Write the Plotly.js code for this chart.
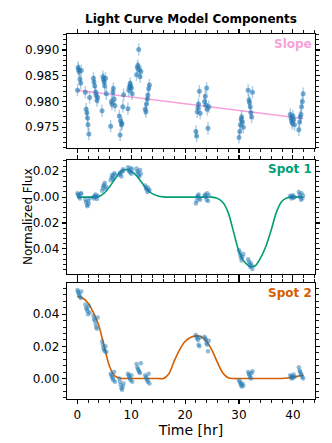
<!DOCTYPE html>
<html>
<head>
<meta charset="utf-8">
<script src="https://cdn.plot.ly/plotly-3.0.1.min.js"></script>
<style>
  html, body { margin: 0; padding: 0; background: #fff; }
  #chart { width: 332px; height: 443px; }
</style>
</head>
<body>
<div id="chart"></div>
<script>
// observation times [hr], 15 visits of 7 points
const time = [
  0.05, 0.15, 0.25, 0.35, 0.5, 0.65, 0.75,
  1.5, 1.65, 1.8, 1.9, 2.0, 2.15, 2.3,
  3.0, 3.1, 3.25, 3.4, 3.5, 3.65, 3.8,
  4.6, 4.75, 4.85, 5.0, 5.1, 5.25, 5.4,
  6.2, 6.35, 6.45, 6.6, 6.7, 6.85, 7.0,
  7.8, 7.95, 8.05, 8.2, 8.3, 8.45, 8.6,
  9.4, 9.55, 9.65, 9.8, 9.9, 10.05, 10.2,
  11.0, 11.15, 11.25, 11.4, 11.5, 11.65, 11.8,
  12.6, 12.75, 12.85, 13.0, 13.1, 13.25, 13.4,
  22.0, 22.15, 22.25, 22.4, 22.5, 22.65, 22.8,
  23.6, 23.75, 23.85, 24.0, 24.1, 24.25, 24.4,
  30.0, 30.15, 30.25, 30.4, 30.5, 30.65, 30.8,
  31.7, 31.85, 31.95, 32.1, 32.2, 32.35, 32.5,
  39.5, 39.65, 39.75, 39.9, 40.0, 40.15, 40.3,
  41.1, 41.25, 41.35, 41.5, 41.6, 41.75, 41.9
]

// top panel: flux with slope component
const slopeFlux = [
  0.9822, 0.9866, 0.9862, 0.9858, 0.9843, 0.9836, 0.9860,
  0.9818, 0.9785, 0.9778, 0.9768, 0.9755, 0.9737, 0.9808,
  0.9845, 0.9838, 0.9830, 0.9818, 0.9812, 0.9802, 0.9808,
  0.9782, 0.9848, 0.9843, 0.9838, 0.9830, 0.9845, 0.9815,
  0.9752, 0.9800, 0.9795, 0.9818, 0.9825, 0.9805, 0.9792,
  0.9772, 0.9735, 0.9762, 0.9755, 0.9758, 0.9790, 0.9813,
  0.9786, 0.9822, 0.9828, 0.9835, 0.9830, 0.9826, 0.9815,
  0.9852, 0.9866, 0.9870, 0.9901, 0.9862, 0.9848, 0.9858,
  0.9785, 0.9780, 0.9795, 0.9805, 0.9812, 0.9825, 0.9832,
  0.9742, 0.9733, 0.9780, 0.9788, 0.9795, 0.9820, 0.9777,
  0.9800, 0.9810, 0.9793, 0.9826, 0.9785, 0.9748, 0.9790,
  0.9730, 0.9742, 0.9755, 0.9765, 0.9770, 0.9760, 0.9750,
  0.9822, 0.9803, 0.9798, 0.9790, 0.9778, 0.9770, 0.9818,
  0.9775, 0.9768, 0.9762, 0.9758, 0.9772, 0.9765, 0.9755,
  0.9745, 0.9760, 0.9770, 0.9775, 0.9790, 0.9800, 0.9815
]
const slopeErr = 0.0012

const slopeLineT = [0, 41.9]
const slopeLine = [0.9822, 0.9767]

// middle panel: spot 1 residual flux
const spot1Flux = [
  0.003, 0.002, 0.0015, 0.0, -0.001, 0.0025, 0.003,
  -0.002, -0.004, -0.006, -0.007, -0.003, -0.005, -0.001,
  0.0, -0.001, 0.001, 0.002, 0.0, -0.0015, 0.001,
  0.005, 0.007, 0.0085, 0.0095, 0.011, 0.006, 0.008,
  0.013, 0.015, 0.017, 0.016, 0.014, 0.0185, 0.0175,
  0.017, 0.019, 0.018, 0.016, 0.0195, 0.0215, 0.0205,
  0.023, 0.021, 0.020, 0.019, 0.0225, 0.018, 0.0215,
  0.022, 0.020, 0.019, 0.017, 0.016, 0.021, 0.018,
  0.009, 0.007, 0.006, 0.004, 0.0075, 0.005, 0.0055,
  -0.005, -0.003, 0.0, 0.001, 0.002, -0.001, -0.002,
  0.001, 0.002, 0.0, -0.002, 0.003, -0.003, 0.0015,
  -0.041, -0.043, -0.045, -0.047, -0.049, -0.046, -0.044,
  -0.048, -0.050, -0.052, -0.054, -0.051, -0.053, -0.0555,
  0.001, 0.0, -0.001, 0.0005, 0.0015, -0.0005, 0.0,
  0.004, 0.002, 0.0, -0.002, 0.003, -0.001, 0.001
]

// bottom panel: spot 2 residual flux
const spot2Flux = [
  0.055, 0.054, 0.053, 0.052, 0.051, 0.050, 0.054,
  0.046, 0.044, 0.043, 0.042, 0.040, 0.045, 0.041,
  0.039, 0.037, 0.036, 0.034, 0.032, 0.031, 0.038,
  0.023, 0.021, 0.019, 0.018, 0.017, 0.020, 0.0165,
  0.003, 0.002, 0.001, 0.0, -0.001, 0.004, -0.002,
  0.0, -0.002, -0.004, -0.006, -0.007, -0.005, -0.003,
  0.003, 0.002, 0.001, 0.0, -0.001, 0.002, -0.002,
  0.009, 0.007, 0.006, 0.005, 0.004, 0.0035, 0.0095,
  0.002, 0.001, 0.0, -0.001, -0.002, 0.003, -0.003,
  0.027, 0.026, 0.025, 0.024, 0.021, 0.020, 0.0255,
  0.026, 0.025, 0.024, 0.022, 0.021, 0.017, 0.0235,
  -0.001, -0.002, -0.003, -0.004, -0.005, -0.003, -0.0045,
  0.004, 0.003, 0.002, 0.001, 0.0, 0.0035, 0.0045,
  0.002, 0.001, 0.0, 0.0015, 0.0005, 0.0025, 0.001,
  0.007, 0.005, 0.004, 0.003, 0.002, 0.001, 0.0
]

// model curves read at whole hours
const modelT = [
  0, 1, 2, 3, 4, 5, 6, 7, 8, 9, 10, 11, 12, 13, 14, 15, 16, 17, 18, 19, 20, 21,
  22, 23, 24, 25, 26, 27, 28, 29, 30, 31, 32, 33, 34, 35, 36, 37, 38, 39, 40, 41, 41.9
]
const spot1Model = [
  0, 0, 0, 0, 0.0005, 0.003, 0.008, 0.014, 0.0195, 0.0213, 0.020, 0.0165, 0.011, 0.0055,
  0.0025, 0.0008, 0.0002, 0, 0, 0, 0, 0, 0, 0, 0, 0, -0.001, -0.004, -0.012, -0.027,
  -0.042, -0.050, -0.0535, -0.053, -0.047, -0.038, -0.025, -0.011, -0.003, -0.0005, 0, 0, 0
]
const spot2Model = [
  0.051, 0.050, 0.047, 0.041, 0.033, 0.020, 0.0075, 0.0015, 0.0002, 0, 0, 0, 0, 0,
  0, 0, 0, 0.003, 0.011, 0.018, 0.023, 0.0255, 0.0265, 0.026, 0.023, 0.0175, 0.010,
  0.0035, 0.0005, 0, 0, 0, 0, 0, 0, 0, 0, 0, 0, 0.0003, 0.0008, 0.0015, 0.0022
]

const blue = "rgba(31,119,180,0.6)"
const pink = "#f7a1d9"
const green = "#009e73"
const orange = "#d55e00"

const data = [
  { x: slopeLineT, y: slopeLine, xaxis: "x", yaxis: "y", mode: "lines",
    line: { color: pink, width: 1.6 }, hoverinfo: "skip" },
  { x: time, y: slopeFlux, xaxis: "x", yaxis: "y", mode: "markers",
    marker: { color: blue, size: 5 },
    error_y: { type: "constant", value: slopeErr, color: "rgba(31,119,180,0.35)", thickness: 1.5, width: 0 } },
  { x: modelT, y: spot1Model, xaxis: "x2", yaxis: "y2", mode: "lines",
    line: { color: green, width: 1.6, shape: "spline", smoothing: 0.8 } },
  { x: time, y: spot1Flux, xaxis: "x2", yaxis: "y2", mode: "markers",
    marker: { color: "rgba(31,119,180,0.5)", size: 4.5 } },
  { x: modelT, y: spot2Model, xaxis: "x3", yaxis: "y3", mode: "lines",
    line: { color: orange, width: 1.6, shape: "spline", smoothing: 0.8 } },
  { x: time, y: spot2Flux, xaxis: "x3", yaxis: "y3", mode: "markers",
    marker: { color: "rgba(31,119,180,0.5)", size: 4.5 } },
]

const frame = {
  showline: true, linecolor: "black", linewidth: 1.2, mirror: "ticks",
  ticks: "outside", ticklen: 4, tickwidth: 1.1, tickcolor: "black",
  showgrid: false, zeroline: false,
}
const minor = (d) => ({ tickmode: "linear", tick0: 0, dtick: d, ticks: "outside", ticklen: 2.5, tickwidth: 0.9, tickcolor: "black" })

const xbase = { ...frame, range: [-1.9, 44.1], tick0: 0, dtick: 10, minor: minor(2) }

const corner = (text, color, n) => ({
  text: `<b>${text}</b>`, font: { color, size: 12 },
  xref: `x${n} domain`, yref: `y${n} domain`,
  x: 0.995, y: 0.995, xanchor: "right", yanchor: "top", showarrow: false,
})

const layout = {
  width: 332, height: 443,
  margin: { l: 67, r: 17, t: 34, b: 44 },
  paper_bgcolor: "white", plot_bgcolor: "white",
  font: { family: "DejaVu Sans", size: 12, color: "black" },
  showlegend: false,
  title: { text: "<b>Light Curve Model Components</b>", font: { size: 12 },
    x: 0.5, xref: "paper", y: 1 - 19 / 443, yref: "container", yanchor: "middle" },
  xaxis: { ...xbase, anchor: "y", showticklabels: false },
  xaxis2: { ...xbase, anchor: "y2", matches: "x", showticklabels: false },
  xaxis3: { ...xbase, anchor: "y3", matches: "x", automargin: false, title: { text: "Time [hr]", standoff: 2 } },
  yaxis: { ...frame, domain: [0.688, 1], range: [0.971, 0.9931], tick0: 0.975, dtick: 0.005,
    tickformat: ".3f", minor: minor(0.001) },
  yaxis2: { ...frame, domain: [0.342, 0.655], range: [-0.0595, 0.0287], tickmode: "array",
    tickvals: [-0.04, -0.02, 0, 0.02], ticktext: ["0.04", "0.02", "0.00", "0.02"],
    minor: minor(0.004) },
  yaxis3: { ...frame, domain: [0, 0.318], range: [-0.0127, 0.0594], tick0: 0, dtick: 0.02,
    tickformat: ".2f", minor: minor(0.004) },
  annotations: [
    { ...corner("Slope", pink, ""), xref: "x domain", yref: "y domain" },
    corner("Spot 1", green, 2),
    corner("Spot 2", orange, 3),
    { text: "Normalized Flux", textangle: -90, font: { size: 12 }, showarrow: false,
      xref: "paper", x: (28 - 67) / 248, xanchor: "center",
      yref: "y2 domain", y: 0.5, yanchor: "middle" },
  ],
}

Plotly.newPlot("chart", data, layout, { displayModeBar: false, staticPlot: true })
</script>
</body>
</html>
